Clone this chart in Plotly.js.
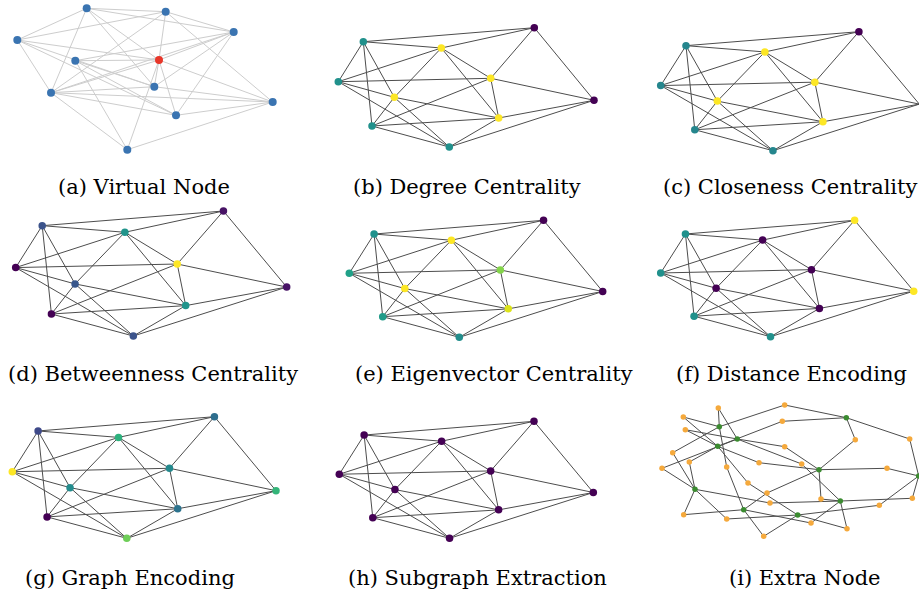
<!DOCTYPE html>
<html><head><meta charset="utf-8">
<script src="https://cdn.plot.ly/plotly-3.0.1.min.js"></script>
<style>html,body{margin:0;padding:0;background:#fff;overflow:hidden}#chart{width:919px;height:593px}</style>
</head><body><div id="chart"></div>
<script>
// ---------- base graph (panels b-h) ----------
const nodeNames = ['A','B','C','D','E','F','G','H','I','J'];
const nodeX = [0.0978,0.4028,0.7665,0.0,0.5960,0.2190,1.0,0.1318,0.6273,0.4341];
const nodeY = [0.1174,0.1702,0.0,0.4526,0.4241,0.5834,0.6085,0.8240,0.7569,1.0];
const edgeSrc = [2,2,2,2,6,6,6,0,0,0,0,1,1,1,1,4,4,4,8,8,8,5,5,5,7,3];
const edgeDst = [0,1,4,6,4,8,9,1,3,5,7,3,5,4,8,3,8,7,5,7,9,3,7,9,9,9];

const degreeValues      = [5,6,4,5,6,6,4,5,6,5];
const closenessValues   = [0.692,0.750,0.643,0.692,0.750,0.750,0.643,0.692,0.750,0.692];
const betweennessValues = [0.043,0.075,0.018,0.012,0.134,0.045,0.018,0.012,0.075,0.043];
const eigenvectorValues = [0.305,0.400,0.210,0.318,0.365,0.400,0.210,0.313,0.390,0.303];
const distanceValues    = [1,0,2,1,0,0,2,1,0,1];
const graphEncValues    = [0.22,0.64,0.36,1.0,0.47,0.48,0.66,0.0,0.38,0.78];
const subgraphValues    = [0,0,0,0,0,0,0,0,0,0];

// ---------- virtual node panel (a) ----------
const vnX = [0.2717,0.5810,0.0,0.8473,0.2271,0.5364,0.1320,0.6214,1.0,0.4307,0.5548];
const vnY = [0.0,0.0240,0.2242,0.1676,0.3706,0.5544,0.5969,0.7567,0.6627,1.0,0.3656];
const vnIsVirtual = [0,0,0,0,0,0,0,0,0,0,1];
const vnEdgeSrc = [0,0,0,0,0,1,1,1,1,2,2,2,3,3,3,3,4,4,5,5,6,6,6,7,8,4, 10,10,10,10,10,10,10,10,10,10];
const vnEdgeDst = [1,3,2,6,5,2,3,6,8,5,7,6,4,6,5,7,7,9,6,8,7,8,9,8,9,5, 0,1,2,3,4,5,6,7,8,9];

// ---------- extra node panel (i) ----------
// first 10 = original nodes (green), next 26 = extra nodes (orange)
const enX = [0.2232,0.2933,0.2170,0.6116,0.7180,0.1286,0.3183,0.5286,0.6946,1.0,
             0.2193,0.4780,0.0830,0.4686,0.0908,0.7530,0.9649,0.4780,0.0417,0.1063,0.3779,0.5442,0.0,
             0.2520,0.8765,0.3350,0.4090,0.6194,0.9751,0.4207,0.8465,0.0845,0.2520,0.5804,0.7207,0.3962];
const enY = [0.1653,0.2590,0.3146,0.4928,0.0967,0.6420,0.7974,0.8378,0.7312,0.5407,
             0.0228,0.0,0.0914,0.1241,0.1881,0.2643,0.2590,0.3176,0.3633,0.4341,0.4394,0.4494,0.4821,
             0.4722,0.4821,0.5941,0.6702,0.7159,0.7106,0.7464,0.7639,0.8355,0.8682,0.8987,0.9421,1.0];
const enIsExtra = [0,0,0,0,0,0,0,0,0,0, 1,1,1,1,1,1,1,1,1,1,1,1,1,1,1,1,1,1,1,1,1,1,1,1,1,1];
// each extra node k (index 10+k) links to two original nodes
const enLinkA = [0,0,0,2,1,4,4,1,0,5,2,1,5,0,3,2,3,3,9,8,9,5,5,6,8,6];
const enLinkB = [1,4,2,4,2,3,9,3,5,2,3,8,1,6,9,7,6,8,8,5,7,6,7,8,7,7];

const captions = ['(a) Virtual Node','(b) Degree Centrality','(c) Closeness Centrality',
  '(d) Betweenness Centrality','(e) Eigenvector Centrality','(f) Distance Encoding',
  '(g) Graph Encoding','(h) Subgraph Extraction','(i) Extra Node'];

// ---------- layout geometry (pixels) ----------
const W = 919, H = 593;
const boxes = [
  [17.3,272.7,8.3,149.7],[338.3,594,27.7,147],[660.7,919.3,31.7,150.7],
  [15.7,286.7,211,336],[349.3,602.7,220.3,337.3],[660.7,913.7,220.3,336.7],
  [12.3,276,416.7,538.3],[339.3,593.3,421.3,538.3],[662,918.7,405,536.3]];
const capPos = [[144,187],[467,187],[790,187],[153,374],[494,374],[791,374],[130,578],[477,578],[805,578]];

function axisFor(p0,p1,size,isY){
  const pad=8; const d0=Math.max(0,p0-pad), d1=Math.min(size,p1+pad); const s=p1-p0;
  const base={visible:false,showgrid:false,zeroline:false,fixedrange:true};
  if(!isY) return Object.assign(base,{domain:[d0/size,d1/size],range:[(d0-p0)/s,(d1-p0)/s]});
  return Object.assign(base,{domain:[(size-d1)/size,(size-d0)/size],range:[(d1-p0)/s,(d0-p0)/s]});
}

function edgeXY(xs,ys,src,dst){
  const ex=[],ey=[];
  for(let i=0;i<src.length;i++){ex.push(xs[src[i]],xs[dst[i]],null);ey.push(ys[src[i]],ys[dst[i]],null);}
  return [ex,ey];
}

const traces=[]; const layout={width:W,height:H,margin:{l:0,r:0,t:0,b:0},showlegend:false,
  paper_bgcolor:'#fff',plot_bgcolor:'rgba(0,0,0,0)',annotations:[]};

boxes.forEach((b,i)=>{
  const n=i===0?'':String(i+1);
  layout['xaxis'+n]=axisFor(b[0],b[1],W,false);
  layout['yaxis'+n]=axisFor(b[2],b[3],H,true);
  layout.annotations.push({text:captions[i],xref:'paper',yref:'paper',x:capPos[i][0]/W,y:1-capPos[i][1]/H,
    xanchor:'center',yanchor:'middle',showarrow:false,font:{family:'DejaVu Serif',size:21,color:'#000'}});
});
function ax(i){const n=i===0?'':String(i+1);return {xaxis:'x'+n,yaxis:'y'+n};}

// panel a
{
  const [ex,ey]=edgeXY(vnX,vnY,vnEdgeSrc,vnEdgeDst);
  traces.push(Object.assign({type:'scatter',mode:'lines',x:ex,y:ey,line:{color:'#cdcdcd',width:1},hoverinfo:'skip'},ax(0)));
  traces.push(Object.assign({type:'scatter',mode:'markers',x:vnX,y:vnY,cliponaxis:false,
    marker:{size:8,color:vnIsVirtual.map(v=>v?'#e8372a':'#3a74b1'),line:{width:0}}},ax(0)));
}
// panels b-h
const valueSets=[degreeValues,closenessValues,betweennessValues,eigenvectorValues,distanceValues,graphEncValues,subgraphValues];
valueSets.forEach((vals,k)=>{
  const i=k+1;
  const [ex,ey]=edgeXY(nodeX,nodeY,edgeSrc,edgeDst);
  traces.push(Object.assign({type:'scatter',mode:'lines',x:ex,y:ey,line:{color:'#4d4d4d',width:1},hoverinfo:'skip'},ax(i)));
  const mk={size:7.5,color:vals,colorscale:'Viridis',showscale:false,line:{width:0}};
  if(k===6){mk.cmin=0;mk.cmax=1;}
  traces.push(Object.assign({type:'scatter',mode:'markers',x:nodeX,y:nodeY,text:nodeNames,cliponaxis:false,marker:mk},ax(i)));
});
// panel i
{
  const src=[],dst=[];
  enLinkA.forEach((a,k)=>{src.push(10+k,10+k);dst.push(a,enLinkB[k]);});
  const [ex,ey]=edgeXY(enX,enY,src,dst);
  traces.push(Object.assign({type:'scatter',mode:'lines',x:ex,y:ey,line:{color:'#4d4d4d',width:1},hoverinfo:'skip'},ax(8)));
  traces.push(Object.assign({type:'scatter',mode:'markers',x:enX,y:enY,cliponaxis:false,
    marker:{size:5.5,color:enIsExtra.map(v=>v?'#f5a93c':'#3b8b30'),line:{width:0}}},ax(8)));
}
Plotly.newPlot('chart',traces,layout,{staticPlot:true,displayModeBar:false});
</script></body></html>
